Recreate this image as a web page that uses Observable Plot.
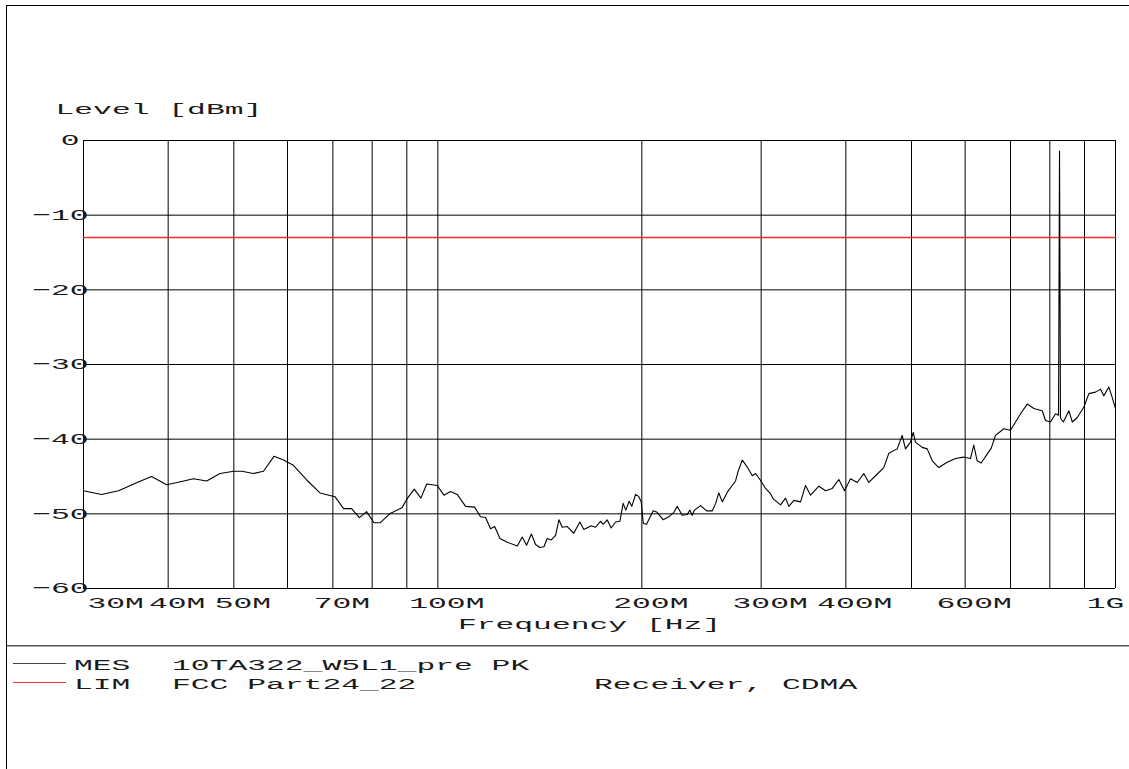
<!DOCTYPE html>
<html><head><meta charset="utf-8">
<script src="https://cdn.jsdelivr.net/npm/d3@7"></script>
<script src="https://cdn.jsdelivr.net/npm/@observablehq/plot@0.6"></script>
<style>
body{margin:0;background:#fff;}
#wrap{position:relative;width:1129px;height:769px;overflow:hidden;background:#fff;}
#wrap svg{position:absolute;left:0;}
#wrap svg text{font-family:"Liberation Mono",monospace;font-size:15.5px;fill:#1a1a1a;}
#frame{position:absolute;left:6px;top:5px;width:1130px;height:770px;border-left:1px solid #000;border-top:1px solid #000;pointer-events:none;}
</style></head><body><div id="wrap"></div>
<script>
// ---- data ----
const mesFreq = [30,31.9,33.8,36.0,37.8,39.8,41.7,43.6,45.6,47.7,50.0,51.4,53.4,55.3,57.3,59.2,61.2,64.1,67.0,70.5,72.6,74.6,76.6,78.5,80.5,82.2,84.9,88.5,90.2,92.3,94.4,96.3,99.8,102.1,104.4,106.8,109.9,113.3,115.6,117.6,119.6,121.3,123.5,126.6,131.0,133.2,135.2,137.4,139.4,141.4,143.4,145.0,147.0,149.2,150.9,152.6,155.2,158.7,162.0,164.2,168.4,170.9,173.8,175.4,177.8,180.2,182.9,185.6,187.7,189.4,191.6,193.3,195.8,198.0,199.6,201.0,203.2,207.9,210.7,215.1,219.2,223.0,225.6,229.4,233.4,235.4,237.3,239.2,244.2,249.2,254.1,257.0,259.8,262.9,267.4,271.9,275.0,277.2,281.3,284.5,287.7,291.1,294.3,299.3,304.5,309.7,312.6,320.4,325.9,329.6,335.3,343.0,348.8,354.8,365.0,373.3,382.0,390.6,398.2,406.4,415.8,425.2,432.5,442.5,455.1,462.9,476.3,484.4,489.9,498.3,502.9,506.8,518.5,527.4,536.5,548.5,564.4,580.6,597.1,610.9,617.8,625.0,633.5,646.6,655.6,665.2,684.3,700.0,712.0,724.2,740.9,757.7,779.6,788.4,801.9,815.7,824.0,826.8,829.5,837.5,853.6,863.5,878.2,898.2,913.5,934.3,950.3,961.0,977.5,988.8,1000];
const mesLevel = [-46.9,-47.4,-46.9,-45.8,-45.0,-46.1,-45.7,-45.3,-45.6,-44.6,-44.3,-44.3,-44.6,-44.3,-42.3,-42.8,-43.5,-45.5,-47.2,-47.7,-49.3,-49.3,-50.5,-49.7,-51.2,-51.2,-50.0,-49.2,-47.9,-46.7,-47.9,-46.0,-46.2,-47.5,-47.0,-47.4,-49.0,-49.1,-50.4,-50.5,-52.0,-51.7,-53.3,-53.8,-54.3,-53.1,-54.2,-52.7,-54.1,-54.5,-54.4,-53.3,-53.5,-52.9,-50.8,-51.8,-51.7,-52.6,-51.1,-52.1,-51.6,-51.8,-51.0,-51.4,-50.8,-51.9,-51.1,-51.0,-48.6,-49.5,-48.3,-49.0,-47.4,-47.7,-48.4,-51.3,-51.4,-49.6,-49.8,-50.8,-50.4,-49.8,-49.0,-50.2,-50.1,-49.5,-50.2,-49.5,-48.9,-49.6,-49.6,-48.6,-47.2,-48.4,-47.1,-46.2,-45.6,-44.4,-42.8,-43.4,-44.1,-44.9,-44.6,-45.5,-46.6,-47.3,-48.0,-48.8,-47.9,-49.0,-48.2,-48.4,-46.2,-47.5,-46.3,-46.9,-46.6,-45.4,-46.9,-45.3,-45.8,-44.6,-45.8,-44.9,-43.8,-41.9,-41.3,-39.5,-41.3,-40.4,-39.1,-40.4,-41.1,-41.3,-42.9,-43.8,-43.1,-42.6,-42.4,-42.6,-40.8,-42.9,-43.2,-42.0,-41.2,-39.5,-38.6,-38.8,-37.7,-36.6,-35.3,-35.9,-36.2,-37.5,-37.7,-36.6,-36.8,-1.4,-37.2,-37.7,-36.2,-37.7,-37.1,-35.7,-33.9,-33.7,-33.3,-34.2,-33.0,-34.4,-35.9];
const limFreq = [30, 1000];
const limLevel = [-13, -13];
const gridFreqs = [30,40,50,60,70,80,90,100,200,300,400,500,600,700,800,900,1000];
const tickFreqs = [30,40,50,70,100,200,300,400,600,1000];
const tickLabels = ["30M","40M","50M","70M","100M","200M","300M","400M","600M","1G"];
const levelTicks = [0,-10,-20,-30,-40,-50,-60];
const levelLabels = ["0","\u221210","\u221220","\u221230","\u221240","\u221250","\u221260"];
const yTitle = "Level [dBm]";
const xTitle = "Frequency [Hz]";
const legendNames = ["MES","LIM"];
const legendDescs = ["10TA322_W5L1_pre PK","FCC Part24_22"];
const legendExtras = ["","Receiver, CDMA"];
const legendColors = ["#444","#ff3030"];

// ---- build ----
const CELL = 18.8;
const mes = mesFreq.map((f,i)=>({f, v: mesLevel[i]}));
const lim = limFreq.map((f,i)=>({f, v: limLevel[i]}));
const ticks = tickFreqs.map((f,i)=>({f, label: tickLabels[i], i}));
const yt = levelTicks.map((v,i)=>({v, label: levelLabels[i]}));
const last = ticks.length - 1;

const plot = Plot.plot({
  width: 1129, height: 645,
  marginLeft: 83, marginRight: 14, marginTop: 140, marginBottom: 57,
  x: {type: "log", domain: [30, 1000], axis: null},
  y: {domain: [-60, 0], axis: null},
  style: {background: "none", overflow: "visible"},
  marks: [
    Plot.ruleX(gridFreqs, {stroke: "#000", strokeWidth: 1}),
    Plot.ruleY(levelTicks, {stroke: "#000", strokeWidth: 1}),
    Plot.line(lim, {x: "f", y: "v", stroke: "#ff2a2a", strokeWidth: 1.5}),
    Plot.line(mes, {x: "f", y: "v", stroke: "#000", strokeWidth: 1.1}),
    Plot.text(ticks.filter(d => d.i > 0 && d.i < last), {x: "f", y: () => -60, text: "label", dy: 15, dx: 9, textAnchor: "middle"}),
    Plot.text(ticks.filter(d => d.i === 0), {x: "f", y: () => -60, text: "label", dy: 15, dx: 4, textAnchor: "start"}),
    Plot.text(ticks.filter(d => d.i === last), {x: "f", y: () => -60, text: "label", dy: 15, dx: -10, textAnchor: "middle"}),
    Plot.text(yt.filter(d => d.v !== 0), {x: () => 30, y: "v", text: "label", dx: 5, textAnchor: "end"}),
    Plot.text(yt.filter(d => d.v === 0), {x: () => 30, y: "v", text: "label", dx: -4, textAnchor: "end"}),
    Plot.text([yTitle], {frameAnchor: "top-left", text: d => d, dx: -28, dy: -31, textAnchor: "start", lineAnchor: "middle"}),
    Plot.text([xTitle], {frameAnchor: "bottom", text: d => d, dx: -10, dy: 36, textAnchor: "middle", lineAnchor: "middle"})
  ]
});
plot.style.top = "0px";
const wrap = document.getElementById("wrap");
wrap.appendChild(plot);

// legend below the chart
const leg = d3.create("svg").attr("width", 1129).attr("height", 124).style("top", "645px");
leg.append("line").attr("x1", 6).attr("x2", 1129).attr("y1", 0.5).attr("y2", 0.5).attr("stroke", "#555").attr("stroke-width", 2);
legendNames.forEach((name, i) => {
  const y = 18.5 + i * 19;
  leg.append("line").attr("x1", 13).attr("x2", 66).attr("y1", y).attr("y2", y).attr("stroke", legendColors[i]).attr("stroke-width", 1);
  const ty = y + 1;
  leg.append("text").attr("x", 74).attr("y", ty).attr("dy", "0.35em").text(name);
  leg.append("text").attr("x", 172).attr("y", ty).attr("dy", "0.35em").text(legendDescs[i]);
  if (legendExtras[i]) leg.append("text").attr("x", 594).attr("y", ty).attr("dy", "0.35em").text(legendExtras[i]);
});
wrap.appendChild(leg.node());

const frame = document.createElement("div");
frame.id = "frame";
wrap.appendChild(frame);

// stretch every text to the wide fixed character cell of the original plotter font
wrap.querySelectorAll("text").forEach(t => {
  const n = t.textContent.length;
  t.setAttribute("textLength", (n * CELL).toFixed(1));
  t.setAttribute("lengthAdjust", "spacingAndGlyphs");
  t.style.whiteSpace = "pre";
});
</script></body></html>
